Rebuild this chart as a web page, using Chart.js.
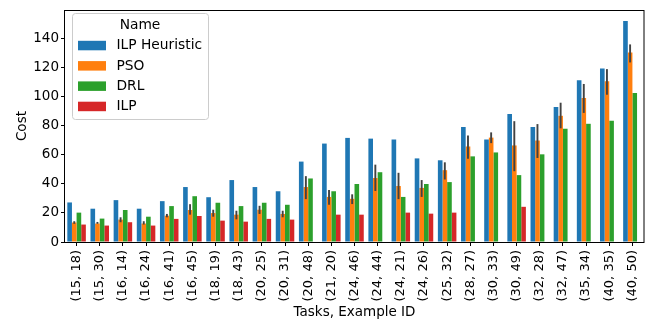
<!DOCTYPE html>
<html>
<head>
<meta charset="utf-8">
<script src="https://cdn.jsdelivr.net/npm/chart.js@4/dist/chart.umd.min.js"></script>
<style>
  html, body { margin: 0; padding: 0; background: #ffffff; }
  #wrap { width: 654px; height: 322px; position: relative; }
</style>
</head>
<body>
<div id="wrap"><canvas id="c" width="654" height="322"></canvas></div>
<script>
const categories = ['(15, 18)', '(15, 30)', '(16, 14)', '(16, 24)', '(16, 41)', '(16, 45)', '(18, 19)', '(18, 43)', '(20, 25)', '(20, 31)', '(20, 48)', '(21, 20)', '(24, 46)', '(24, 44)', '(24, 21)', '(24, 26)', '(25, 32)', '(28, 27)', '(30, 33)', '(30, 49)', '(32, 28)', '(32, 47)', '(35, 34)', '(40, 35)', '(40, 50)'];
const seriesNames = ['ILP Heuristic', 'PSO', 'DRL', 'ILP'];
const ilpHeuristic = [27.2, 22.9, 28.8, 22.9, 28.1, 37.8, 30.8, 42.6, 37.8, 34.9, 55.3, 67.7, 71.6, 71.1, 70.5, 57.5, 56.2, 79.1, 70.5, 88.1, 79.1, 92.9, 111.2, 119.4, 152.0];
const pso = [13.4, 12.7, 15.4, 12.7, 18.1, 22.0, 19.9, 18.8, 22.2, 19.3, 37.8, 31.0, 29.7, 44.0, 38.5, 37.2, 49.4, 65.7, 71.8, 66.4, 69.8, 86.8, 99.0, 110.6, 130.3];
const drl = [20.2, 16.1, 22.0, 17.4, 24.7, 31.5, 27.0, 24.7, 27.0, 25.6, 43.7, 34.9, 39.9, 48.0, 31.0, 39.9, 41.2, 58.9, 61.6, 46.0, 60.3, 77.9, 81.3, 83.4, 102.4];
const ilp = [12.0, 11.3, 13.6, 11.3, 15.9, 17.9, 14.7, 14.0, 15.9, 15.4, null, 18.8, 18.8, null, 20.2, 19.5, 20.2, null, null, 24.2, null, null, null, null, null];
const psoLow = [12.5, 12.5, 13.6, 12.0, 17.0, 18.8, 17.4, 15.6, 19.3, 17.0, 29.5, 25.6, 26.1, 35.1, 29.5, 31.0, 43.0, 57.3, 68.0, 48.7, 57.8, 78.2, 88.8, 101.3, 123.5];
const psoHigh = [14.3, 13.8, 17.0, 14.3, 19.3, 26.0, 22.2, 21.5, 24.9, 21.5, 45.3, 35.8, 32.8, 53.2, 47.6, 42.6, 54.8, 73.2, 75.4, 83.1, 81.1, 95.8, 108.7, 118.9, 135.9];
const yTicks = [0, 20, 40, 60, 80, 100, 120, 140];

const colors = ['#1f77b4', '#ff7f0e', '#2ca02c', '#d62728'];
const FONT = 'DejaVu Sans';

const errorBars = {
  id: 'errorBars',
  afterDatasetsDraw(chart) {
    const ctx = chart.ctx;
    const meta = chart.getDatasetMeta(1);
    const y = chart.scales.y;
    ctx.save();
    ctx.strokeStyle = '#424242';
    ctx.lineWidth = 1.9;
    meta.data.forEach((bar, i) => {
      if (psoLow[i] == null) return;
      ctx.beginPath();
      ctx.moveTo(bar.x, y.getPixelForValue(psoLow[i]));
      ctx.lineTo(bar.x, y.getPixelForValue(psoHigh[i]));
      ctx.stroke();
    });
    ctx.restore();
  }
};

const frameAndLegend = {
  id: 'frameAndLegend',
  afterDraw(chart) {
    const ctx = chart.ctx;
    const a = chart.chartArea;
    ctx.save();
    ctx.strokeStyle = '#000';
    ctx.lineWidth = 1;
    ctx.strokeRect(Math.round(a.left) - 0.5, Math.round(a.top) + 0.5, Math.round(a.right - a.left) + 0.5, Math.round(a.bottom - a.top));
    // legend
    const bx = 72.5, by = 13.5, bw = 136, bh = 106, r = 3;
    ctx.beginPath();
    ctx.moveTo(bx + r, by);
    ctx.lineTo(bx + bw - r, by);
    ctx.quadraticCurveTo(bx + bw, by, bx + bw, by + r);
    ctx.lineTo(bx + bw, by + bh - r);
    ctx.quadraticCurveTo(bx + bw, by + bh, bx + bw - r, by + bh);
    ctx.lineTo(bx + r, by + bh);
    ctx.quadraticCurveTo(bx, by + bh, bx, by + bh - r);
    ctx.lineTo(bx, by + r);
    ctx.quadraticCurveTo(bx, by, bx + r, by);
    ctx.closePath();
    ctx.fillStyle = 'rgba(255,255,255,0.8)';
    ctx.fill();
    ctx.strokeStyle = '#cccccc';
    ctx.stroke();
    ctx.fillStyle = '#000';
    ctx.font = '13.8px "' + FONT + '"';
    ctx.textBaseline = 'middle';
    ctx.textAlign = 'center';
    ctx.fillText('Name', 140, 25);
    ctx.textAlign = 'left';
    chart.data.datasets.forEach((ds, i) => {
      const cy = 45.3 + i * 20.3;
      ctx.fillStyle = ds.backgroundColor;
      ctx.fillRect(78, cy - 4.5, 28, 9.5);
      ctx.fillStyle = '#000';
      ctx.fillText(ds.label, 116.5, cy + 0.5);
    });
    ctx.restore();
  }
};

new Chart(document.getElementById('c'), {
  type: 'bar',
  data: {
    labels: categories,
    datasets: [
      { label: seriesNames[0], data: ilpHeuristic, backgroundColor: colors[0] },
      { label: seriesNames[1], data: pso, backgroundColor: colors[1] },
      { label: seriesNames[2], data: drl, backgroundColor: colors[2] },
      { label: seriesNames[3], data: ilp, backgroundColor: colors[3] }
    ]
  },
  options: {
    responsive: false,
    animation: false,
    devicePixelRatio: 1,
    layout: { padding: { left: 0, right: 10, top: 7, bottom: 0 } },
    datasets: { bar: { categoryPercentage: 0.8, barPercentage: 1.0, borderWidth: 0 } },
    plugins: { legend: { display: false }, tooltip: { enabled: false } },
    scales: {
      x: {
        offset: true,
        grid: { display: true, offset: false, drawOnChartArea: false, drawTicks: true, tickLength: 4, color: '#000', lineWidth: 1 },
        border: { display: false },
        ticks: { color: '#000', font: { family: FONT, size: 13 }, minRotation: 90, maxRotation: 90, autoSkip: false, padding: 4 },
        title: { display: true, text: 'Tasks, Example ID', color: '#000', font: { family: FONT, size: 13.5 }, padding: { top: 0, bottom: 1 } },
        afterFit(scale) { scale.height = 80; }
      },
      y: {
        min: 0,
        max: 159.5,
        grid: { display: true, drawOnChartArea: false, drawTicks: true, tickLength: 4, color: '#000', lineWidth: 1 },
        border: { display: false },
        ticks: { color: '#000', font: { family: FONT, size: 13.5 }, stepSize: 20, padding: 2 },
        afterBuildTicks(scale) { scale.ticks = yTicks.map(v => ({ value: v })); },
        title: { display: true, text: 'Cost', color: '#000', font: { family: FONT, size: 13.5 }, padding: { top: 14, bottom: 0 } },
        afterFit(scale) { scale.width = 65; }
      }
    }
  },
  plugins: [errorBars, frameAndLegend]
});
</script>
</body>
</html>
